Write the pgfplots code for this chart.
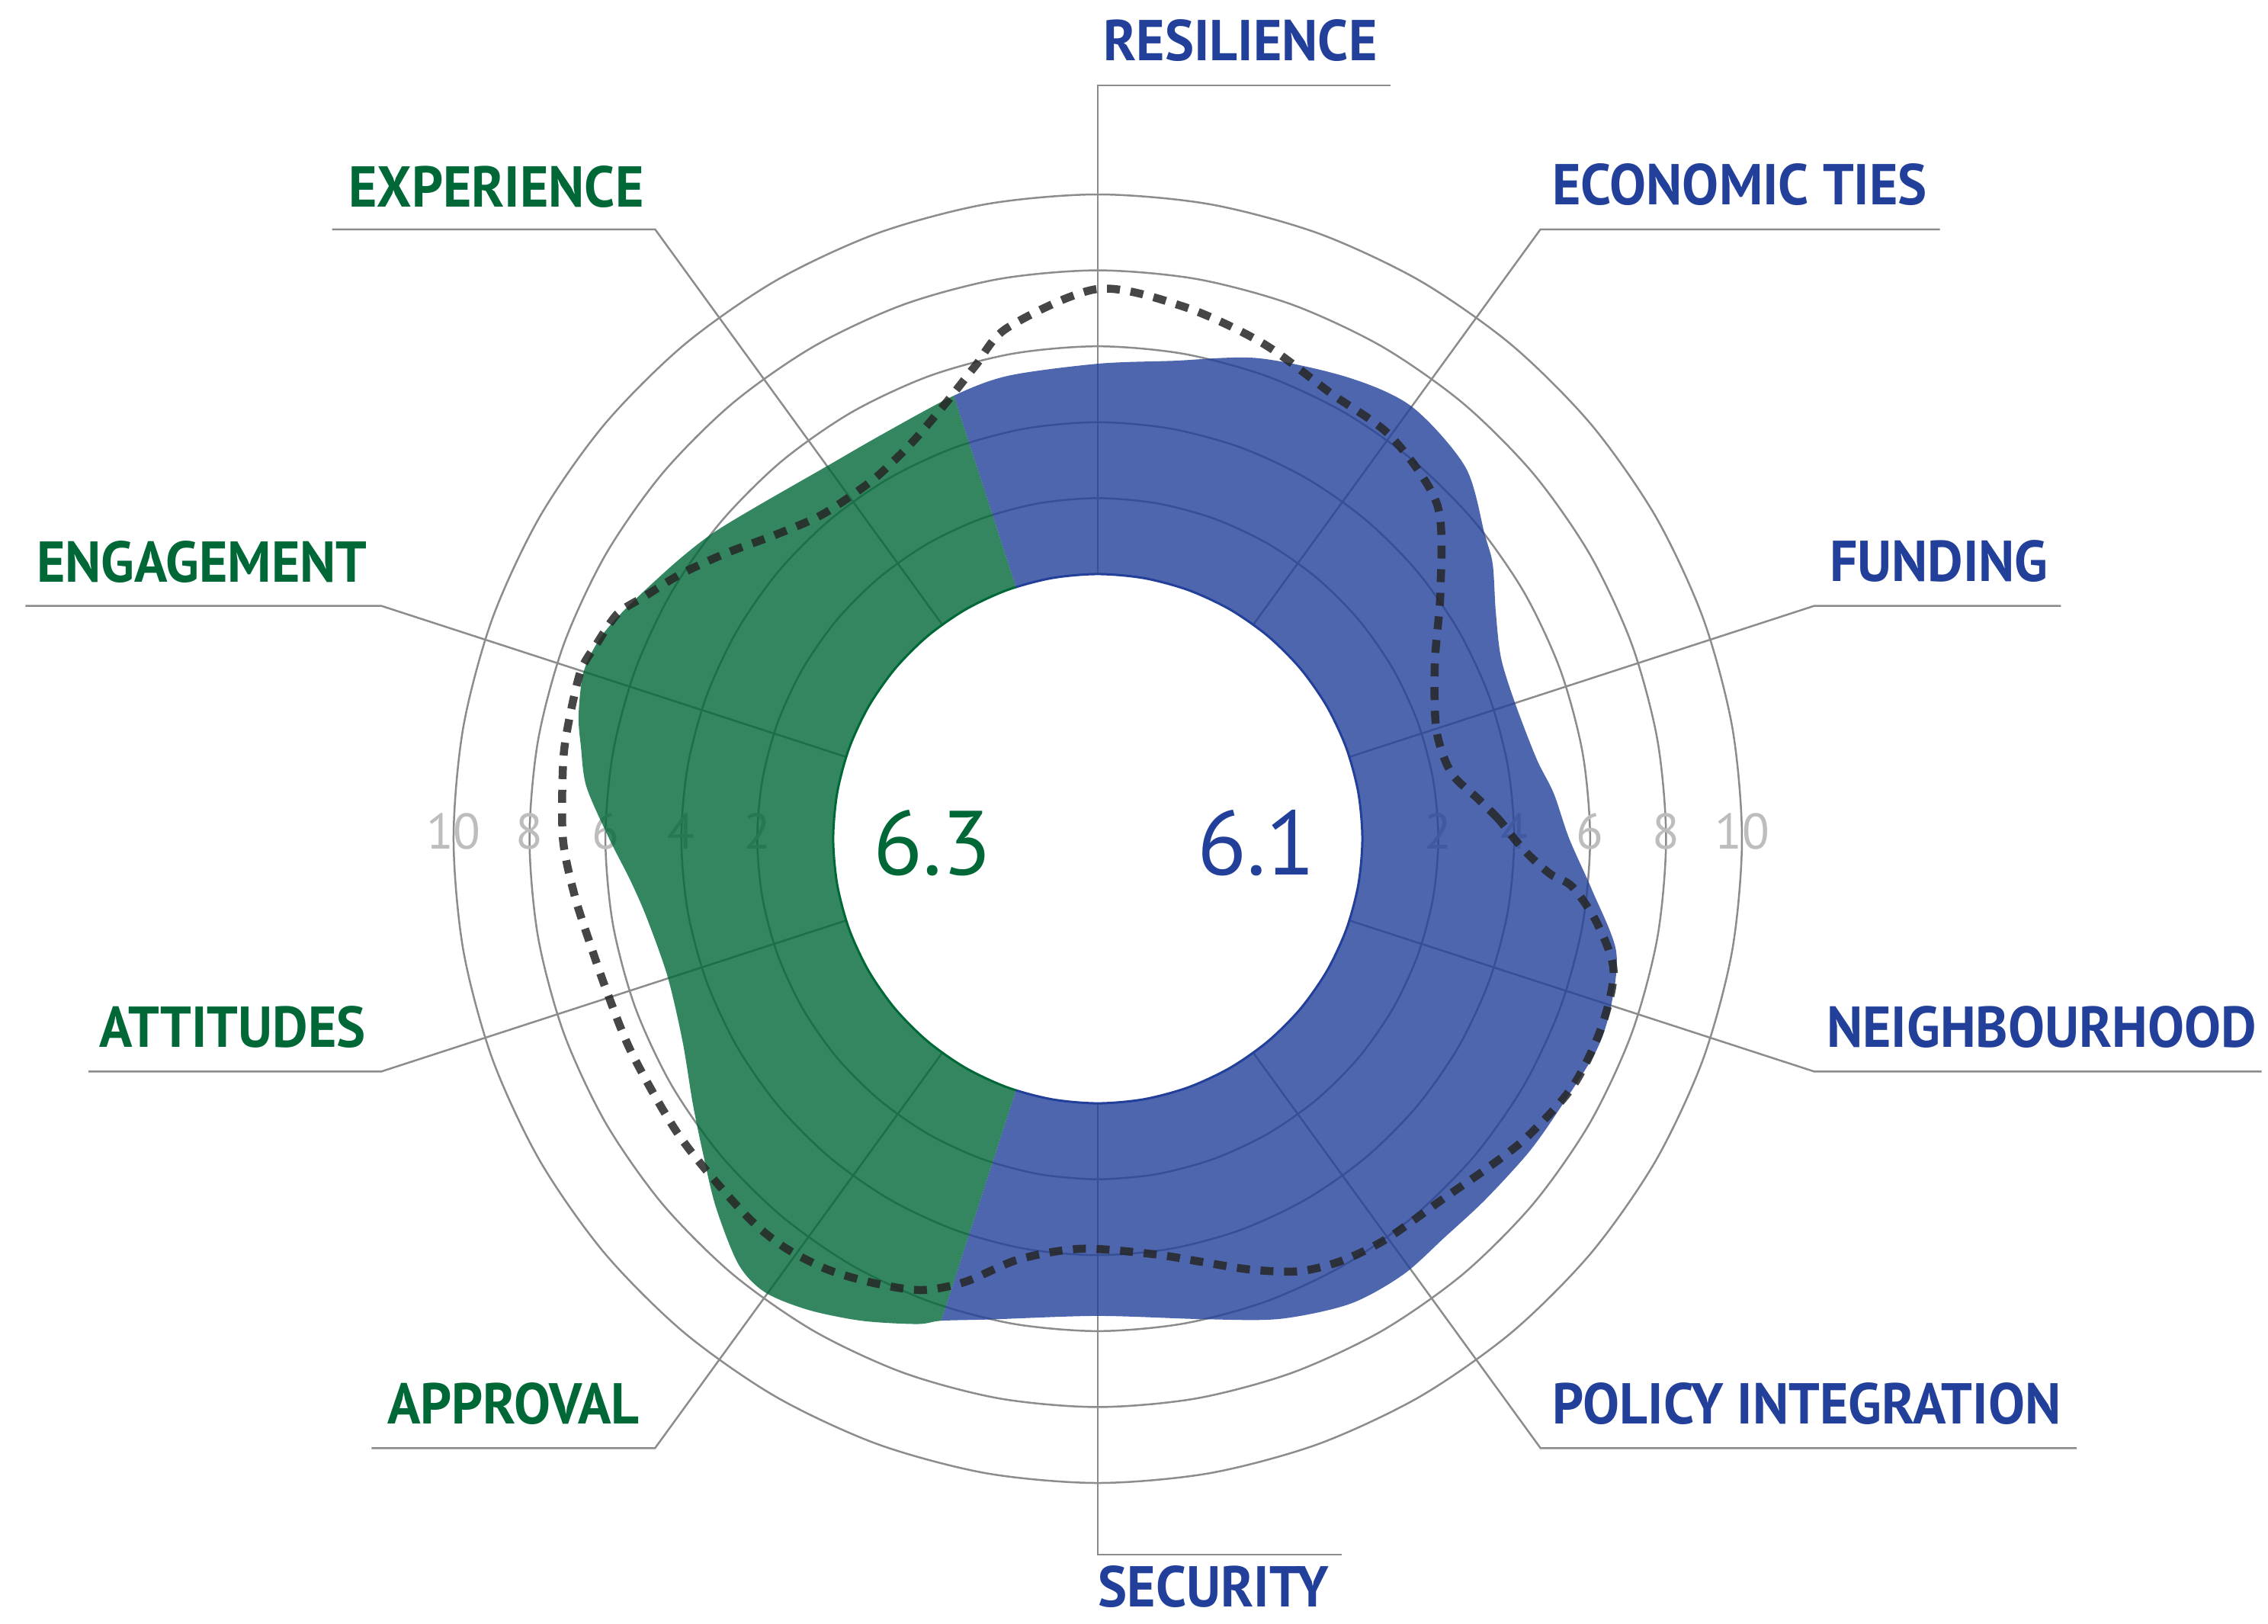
\documentclass[border=0pt]{standalone}
\usepackage{pgfplots}
\usepackage{pgfplotstable}
\pgfplotsset{compat=1.18}
\usepgfplotslibrary{polar}
\usetikzlibrary{calc}
\usepackage{fontspec}
\setmainfont{PT Sans}
\newfontfamily\labelfont[FakeStretch=0.95]{PT Sans}
\definecolor{catblue}{HTML}{22409A}
\definecolor{catgreen}{HTML}{006837}
\definecolor{ringgray}{HTML}{8C8C8C}
\definecolor{ticklab}{HTML}{BDBDBD}
\definecolor{dashcol}{HTML}{262626}

% outer edge of the filled shape (blue -108..108, green 108..252)
\pgfplotstableread{
ang val
-108 6.38
-102.5 6.00
-90 5.60
-77.4 6.00
-69.2 6.56
-61.5 6.97
-55 7.05
-49 6.95
-43 6.98
-36 7.07
-30 7.13
-23 7.30
-18 7.25
-12.2 7.00
-6 6.13
0 5.45
5.7 5.10
10.3 4.78
17.8 4.59
24.1 4.67
29.7 5.10
34.8 5.70
38.2 6.00
45.3 6.80
54 7.10
61.6 6.85
71.6 6.37
81.1 5.77
90 5.54
100.9 5.45
108 5.30
118.1 5.10
125.9 5.16
136.2 5.60
141.9 6.00
147.1 6.34
154 6.86
158 7.16
162 7.27
166.6 7.09
169.9 6.86
174.2 6.57
180 5.90
185 5.40
189.8 5.10
197.7 4.93
206 5.20
213.1 5.77
218.3 6.30
223.9 7.00
229.8 7.70
233.7 7.85
238.4 7.60
243.9 7.17
249.6 6.67
}\outline

% dotted benchmark line
\pgfplotstableread{
ang val
0 4.00
2.8 3.60
6 3.10
10.6 2.50
17.8 2.40
27.5 3.04
36 4.19
44.5 5.57
53.9 6.14
62.3 6.27
71.5 6.78
80.7 7.22
90 7.51
100 6.70
104.5 5.90
109.1 5.20
115.2 4.55
121.5 4.20
127.6 4.17
131.5 4.29
136.9 4.72
142.5 5.38
147.6 6.04
151.9 6.57
154.9 7.00
158.9 7.20
162.1 7.35
168 7.30
172.2 7.25
180 7.12
186 6.90
191.3 6.70
197.7 6.57
205 6.54
215.6 6.55
226.4 6.60
232.2 6.60
237.8 6.43
243.2 6.14
248.6 5.80
253.3 5.22
259.4 4.30
267.7 3.84
277.6 4.07
283.7 4.50
289.5 5.07
295 5.60
300 5.87
305.8 6.03
314 6.18
319.8 6.47
325.2 6.80
332.4 7.14
339.3 7.20
345.6 7.06
350.4 6.37
354.2 5.60
355.5 5.00
357.8 4.40
}\bench

% angles for the grid circles (r = 0, the hole edge)
\pgfplotstableread{
ang r
0 0
10 0
20 0
30 0
40 0
50 0
60 0
70 0
80 0
90 0
100 0
110 0
120 0
130 0
140 0
150 0
160 0
170 0
180 0
190 0
200 0
210 0
220 0
230 0
240 0
250 0
260 0
270 0
280 0
290 0
300 0
310 0
320 0
330 0
340 0
350 0
}\angles

\tikzset{
  ring/.style={ringgray, line width=0.025cm},
  cat/.style={font=\labelfont\bfseries\fontsize{21.5}{24}\selectfont, inner sep=0pt},
  tick/.style={font=\fontsize{18.7}{20}\selectfont, text=ticklab, inner sep=0pt, anchor=center},
}

\begin{document}
\begin{tikzpicture}
\begin{polaraxis}[
  width=16.9cm, height=16.9cm, scale only axis,
  hide axis, clip=false,
  ymin=-6.97, ymax=10,
  y coord trafo/.code={\pgfmathparse{#1+6.97}},
  y coord inv trafo/.code={\pgfmathparse{#1-6.97}},
]
\coordinate (c) at (axis cs:0,-6.97);

% rings
\addplot[ring, smooth cycle] table[x=ang, y expr=2] {\angles};
\addplot[ring, smooth cycle] table[x=ang, y expr=4] {\angles};
\addplot[ring, smooth cycle] table[x=ang, y expr=6] {\angles};
\addplot[ring, smooth cycle] table[x=ang, y expr=8] {\angles};
\addplot[ring, smooth cycle] table[x=ang, y expr=10] {\angles};

% radial tick labels
\node[tick] at ([yshift=0.1cm]axis cs:0,2) {2};
\node[tick] at ([yshift=0.1cm]axis cs:0,4) {4};
\node[tick] at ([yshift=0.1cm]axis cs:0,6) {6};
\node[tick] at ([yshift=0.1cm]axis cs:0,8) {8};
\node[tick] at ([yshift=0.1cm]axis cs:0,10) {10};
\node[tick] at ([yshift=0.1cm]axis cs:180,2) {2};
\node[tick] at ([yshift=0.1cm]axis cs:180,4) {4};
\node[tick] at ([yshift=0.1cm]axis cs:180,6) {6};
\node[tick] at ([yshift=0.1cm]axis cs:180,8) {8};
\node[tick] at ([yshift=0.1cm]axis cs:180,10) {10};

% spokes, leader lines and category labels
\coordinate (e1) at (axis cs:90,12.87);
\node[cat, text=catblue, anchor=base west] (t1) at ([xshift=0.07cm,yshift=0.33cm]e1) {RESILIENCE};
\draw[ring] (axis cs:90,0) -- (e1) -- ($(e1 -| t1.east)+(0.17cm,0pt)$);

\coordinate (e2) at (axis cs:54,12.87);
\node[cat, text=catblue, anchor=base west] (t2) at ([xshift=0.15cm,yshift=0.32cm]e2) {ECONOMIC TIES};
\draw[ring] (axis cs:54,0) -- (e2) -- ($(e2 -| t2.east)+(0.16cm,0pt)$);

\coordinate (e3) at (axis cs:18,12.87);
\node[cat, text=catblue, anchor=base west] (t3) at ([xshift=0.2cm,yshift=0.32cm]e3) {FUNDING};
\draw[ring] (axis cs:18,0) -- (e3) -- ($(e3 -| t3.east)+(0.16cm,0pt)$);

\coordinate (e4) at (axis cs:-18,12.87);
\node[cat, text=catblue, anchor=base west] (t4) at ([xshift=0.16cm,yshift=0.32cm]e4) {NEIGHBOURHOOD};
\draw[ring] (axis cs:-18,0) -- (e4) -- ($(e4 -| t4.east)+(0.06cm,0pt)$);

\coordinate (e5) at (axis cs:-54,12.87);
\node[cat, text=catblue, anchor=base west] (t5) at ([xshift=0.15cm,yshift=0.32cm]e5) {POLICY INTEGRATION};
\draw[ring] (axis cs:-54,0) -- (e5) -- ($(e5 -| t5.east)+(0.2cm,0pt)$);

\coordinate (e6) at (axis cs:-90,11.89);
\node[cat, text=catblue, anchor=base west] (t6) at ([yshift=-0.68cm]e6) {SECURITY};
\draw[ring] (axis cs:-90,0) -- (e6) -- ($(e6 -| t6.east)+(0.16cm,0pt)$);

\coordinate (e7) at (axis cs:-126,12.87);
\node[cat, text=catgreen, anchor=base east] (t7) at ([xshift=-0.2cm,yshift=0.32cm]e7) {APPROVAL};
\draw[ring] (axis cs:-126,0) -- (e7) -- ($(e7 -| t7.west)-(0.2cm,0pt)$);

\coordinate (e8) at (axis cs:-162,12.87);
\node[cat, text=catgreen, anchor=base east] (t8) at ([xshift=-0.2cm,yshift=0.32cm]e8) {ATTITUDES};
\draw[ring] (axis cs:-162,0) -- (e8) -- ($(e8 -| t8.west)-(0.14cm,0pt)$);

\coordinate (e9) at (axis cs:162,12.87);
\node[cat, text=catgreen, anchor=base east] (t9) at ([xshift=-0.18cm,yshift=0.31cm]e9) {ENGAGEMENT};
\draw[ring] (axis cs:162,0) -- (e9) -- ($(e9 -| t9.west)-(0.14cm,0pt)$);

\coordinate (e10) at (axis cs:126,12.87);
\node[cat, text=catgreen, anchor=base east] (t10) at ([xshift=-0.14cm,yshift=0.29cm]e10) {EXPERIENCE};
\draw[ring] (axis cs:126,0) -- (e10) -- ($(e10 -| t10.west)-(0.21cm,0pt)$);

% green sector
\begin{scope}
\clip (axis cs:0,-6.97) -- (axis cs:108,14) -- (axis cs:144,14) -- (axis cs:180,14)
      -- (axis cs:216,14) -- (axis cs:252,14) -- cycle;
\addplot[draw=none, fill=catgreen, fill opacity=0.8, smooth cycle] table[x=ang, y=val] {\outline};
\end{scope}

% blue sector
\begin{scope}
\clip (axis cs:0,-6.97) -- (axis cs:-108,14) -- (axis cs:-72,14) -- (axis cs:-36,14)
      -- (axis cs:0,14) -- (axis cs:36,14) -- (axis cs:72,14) -- (axis cs:108,14) -- cycle;
\addplot[draw=none, fill=catblue, fill opacity=0.8, smooth cycle] table[x=ang, y=val] {\outline};
\end{scope}

% hole in the middle
\addplot[draw=none, fill=white, smooth cycle] table[x=ang, y=r] {\angles};
\begin{scope}
\clip (axis cs:0,-6.97) -- (axis cs:108,14) -- (axis cs:144,14) -- (axis cs:180,14)
      -- (axis cs:216,14) -- (axis cs:252,14) -- cycle;
\addplot[draw=catgreen, line width=0.03cm, smooth cycle] table[x=ang, y=r] {\angles};
\end{scope}
\begin{scope}
\clip (axis cs:0,-6.97) -- (axis cs:-108,14) -- (axis cs:-72,14) -- (axis cs:-36,14)
      -- (axis cs:0,14) -- (axis cs:36,14) -- (axis cs:72,14) -- (axis cs:108,14) -- cycle;
\addplot[draw=catblue, line width=0.03cm, smooth cycle] table[x=ang, y=r] {\angles};
\end{scope}

% dotted line
\addplot[dashcol, draw opacity=0.85, line width=0.105cm, dash pattern=on 0.17cm off 0.14cm, smooth cycle]
  table[x=ang, y=val] {\bench};

% centre scores
\node[text=catgreen, font=\fontsize{34}{36}\selectfont, inner sep=0pt] at ([xshift=-2.17cm,yshift=-0.06cm]c) {6.3};
\node[text=catblue, font=\fontsize{34}{36}\selectfont, inner sep=0pt] at ([xshift=2.08cm,yshift=-0.06cm]c) {6.1};
\end{polaraxis}
\pgfresetboundingbox
\path[use as bounding box] ($(c)+(-14.40cm,-10.29cm)$) rectangle ++(29.75cm,21.29cm);
\end{tikzpicture}
\end{document}
